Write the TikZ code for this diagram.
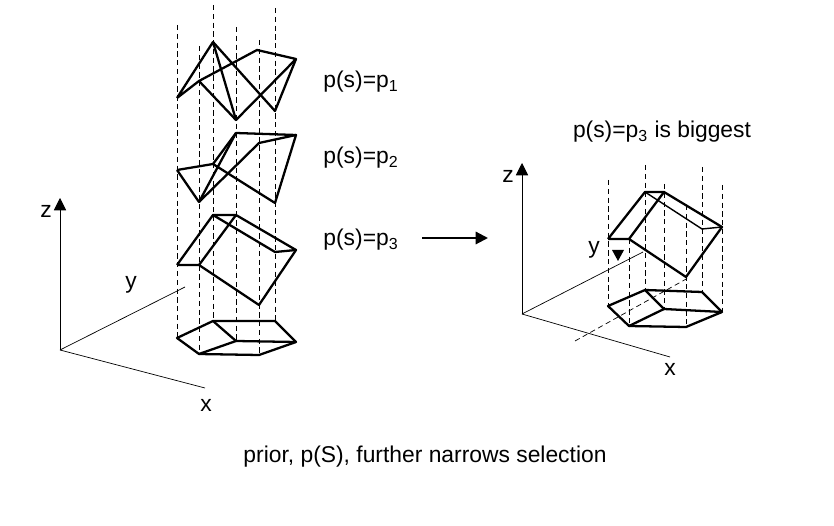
\documentclass[tikz,border=0pt]{standalone}
\usepackage{fontspec}
\setmainfont{Liberation Sans}
\usetikzlibrary{calc,positioning,arrows.meta}
\tikzset{
  wire/.style={line width=1.3pt,line join=round},
  guide/.style={densely dashed,thin},
  tip/.style={-{Triangle[length=7pt,width=7pt]}},
  lbl/.style={font=\fontsize{13}{15}\selectfont,inner sep=0pt}
}
\begin{document}
\begin{tikzpicture}[x=0.02cm,y=-0.02cm]
  \useasboundingbox (0,0) rectangle (834,526);
  % left axes
  \coordinate (O) at (60,350);
  \coordinate (Z) at (60,198);
  \coordinate (X) at (205,388);
  \coordinate (Y) at (185,287);
  \draw[tip] (O) -- (Z);
  \draw (O) -- (X);
  \draw (O) -- (Y);
  \node[lbl] (zl) at (46,211) {z};
  \node[lbl] (xl) at (206,405) {x};
  \node[lbl] (yl) at (131,285) {y};
  % guides
  \draw[guide] (177,25) -- (177,338);
  \draw[guide] (199,46) -- (199,354);
  \draw[guide] (213,5) -- (213,321);
  \draw[guide] (236,27) -- (236,341);
  \draw[guide] (259,40) -- (259,355);
  \draw[guide] (275,8) -- (275,321);
  % p1
  \coordinate (R1) at (177,98);
  \coordinate (R2) at (213,42);
  \coordinate (R3) at (199,81);
  \coordinate (R4) at (236,120);
  \coordinate (R5) at (257,50);
  \coordinate (R6) at (296,59);
  \coordinate (R7) at (275,111);
  \draw[wire] (R1) -- (R2) -- (R4) -- (R6) -- (R5) -- (R3) -- (R1);
  \draw[wire] (R2) -- (R7) -- (R6);
  \draw[wire] (R3) -- (R4);
  % p2
  \coordinate (Q1) at (177,170);
  \coordinate (Q2) at (213,164);
  \coordinate (Q3) at (199,202);
  \coordinate (Q4) at (236,133);
  \coordinate (Q5) at (296,135);
  \coordinate (Q6) at (259,143);
  \coordinate (Q7) at (275,203);
  \draw[wire] (Q1) -- (Q2) -- (Q7) -- (Q5) -- (Q4) -- (Q3) -- (Q1);
  \draw[wire] (Q3) -- (Q6) -- (Q5);
  \draw[wire] (Q2) -- (Q4);
  % p3
  \coordinate (P1) at (177,265);
  \coordinate (P2) at (199,265);
  \coordinate (P3) at (213,215);
  \coordinate (P4) at (236,215);
  \coordinate (P5) at (296,250);
  \coordinate (P6) at (275,252);
  \coordinate (P7) at (259,305);
  \draw[wire] (P1) -- (P3) -- (P4) -- (P5) -- (P7) -- (P2) -- (P1);
  \draw[wire] (P2) -- (P4);
  \draw[wire] (P3) -- (P6) -- (P5);
  % base
  \coordinate (A) at (177,338);
  \coordinate (B) at (213,321);
  \coordinate (C) at (275,321);
  \coordinate (D) at (296,342);
  \coordinate (E) at (259,355);
  \coordinate (F) at (199,354);
  \coordinate (G) at (236,341);
  \draw[wire] (A) -- (B) -- (C) -- (D) -- (E) -- (F) -- cycle;
  \draw[wire] (B) -- (G) -- (D);
  \draw[wire] (F) -- (G);
  % labels
  \node[lbl] (l1) at (361,82) {p(s)=p\textsubscript{1}};
  \node[lbl] (l2) at (361,158) {p(s)=p\textsubscript{2}};
  \node[lbl] (l3) at (361,240) {p(s)=p\textsubscript{3}};
  \coordinate (a1) at (422,238);
  \coordinate (a2) at (488,238);
  \draw[tip,line width=1.2pt] (a1) -- (a2);
  \node[lbl] (big) at (662,132) {p(s)=p\textsubscript{3} is biggest};
  % right axes
  \coordinate (O2) at (522,314);
  \coordinate (Z2) at (522,163);
  \coordinate (X2) at (670,357);
  \coordinate (Y2) at (643,252);
  \draw[tip] (O2) -- (Z2);
  \draw (O2) -- (X2);
  \draw (O2) -- (Y2);
  \draw[guide] (575,341) -- (688,278);
  \fill (612,250) -- (624,250) -- (618,261) -- cycle;
  \node[lbl] (zr) at (508,176) {z};
  \node[lbl] (xr) at (670,369) {x};
  \node[lbl] (yr) at (594,250) {y};
  % right guides
  \draw[guide] (608,180) -- (608,306);
  \draw[guide] (629,239) -- (629,326);
  \draw[guide] (645,165) -- (645,290);
  \draw[guide] (664,184) -- (664,309);
  \draw[guide] (686,205) -- (686,327);
  \draw[guide] (702,167) -- (702,292);
  \draw[guide] (722,185) -- (722,312);
  % winner
  \coordinate (S1) at (608,239);
  \coordinate (S2) at (629,239);
  \coordinate (S3) at (645,192);
  \coordinate (S4) at (664,192);
  \coordinate (S5) at (722,227);
  \coordinate (S6) at (702,229);
  \coordinate (S7) at (686,277);
  \draw[wire] (S1) -- (S3) -- (S4) -- (S5) -- (S7) -- (S2) -- (S1);
  \draw[wire] (S2) -- (S4);
  \draw[thick] (S3) -- (S6) -- (S5);
  % right base
  \coordinate (TA) at (608,306);
  \coordinate (TB) at (645,290);
  \coordinate (TC) at (702,292);
  \coordinate (TD) at (722,312);
  \coordinate (TE) at (686,327);
  \coordinate (TF) at (629,326);
  \coordinate (TG) at (664,309);
  \draw[wire] (TA) -- (TB) -- (TC) -- (TD) -- (TE) -- (TF) -- cycle;
  \draw[wire] (TB) -- (TG) -- (TD);
  \draw[wire] (TF) -- (TG);
  % caption
  \node[lbl] (cap) at (425,457) {prior, p(S), further narrows selection};
\end{tikzpicture}
\end{document}
